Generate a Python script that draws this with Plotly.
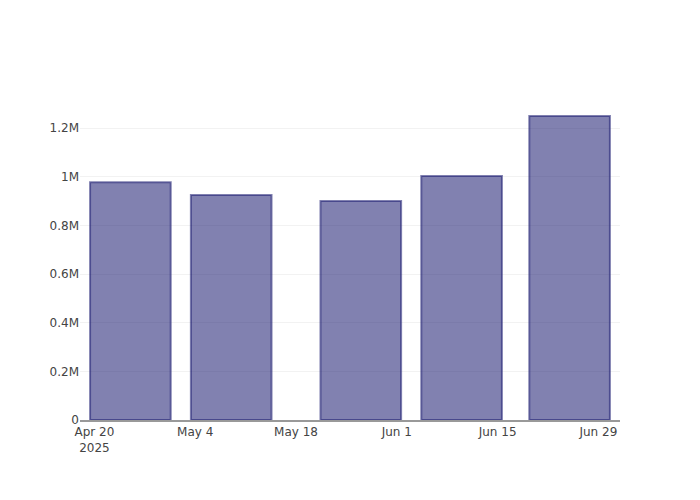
import plotly.graph_objects as go

dates = ["2025-04-25", "2025-05-09", "2025-05-27", "2025-06-10", "2025-06-25"]
values = [978000, 925000, 900000, 1003000, 1250000]

fig = go.Figure(
    go.Bar(
        x=dates,
        y=values,
        marker=dict(color="rgba(25,25,112,0.55)",
                    line=dict(color="rgba(25,25,112,0.55)", width=2)),
    )
)
fig.update_layout(
    width=700,
    height=500,
    margin=dict(l=80, r=80, t=100, b=80),
    plot_bgcolor="white",
    paper_bgcolor="white",
    showlegend=False,
    font=dict(family="DejaVu Sans", size=12, color="#444"),
)
fig.update_xaxes(showgrid=False, zeroline=False, showline=True,
                 linecolor="#999", linewidth=1.5, ticks="")
fig.update_yaxes(gridcolor="#f2f2f2", gridwidth=1, zeroline=False, ticks="")
fig.write_html("out.html", config={"displayModeBar": False},
               post_script="document.body.style.margin='0';")
